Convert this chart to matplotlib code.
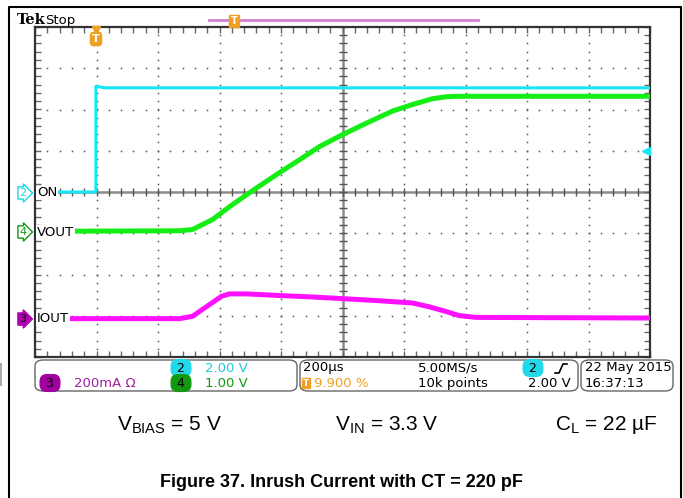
import numpy as np
import matplotlib.pyplot as plt
from matplotlib.patches import FancyBboxPatch, Rectangle
from matplotlib.lines import Line2D

plt.rcParams['font.family'] = ['DejaVu Sans']
plt.rcParams['mathtext.fontset'] = 'custom'
plt.rcParams['mathtext.rm'] = 'Liberation Sans'

W, H = 683, 498

on_t_us = [-118, 0, 0, 30, 1800]
on_v = [0.0, 0.0, 5.12, 5.05, 5.05]

vout_t_us = [-67, 272, 314, 379, 434, 499, 597, 662, 727, 802, 880, 964, 1029, 1094, 1140, 1172, 1800]
vout_v = [0.0, 0.01, 0.04, 0.28, 0.59, 0.93, 1.42, 1.73, 2.05, 2.34, 2.62, 2.91, 3.07, 3.21, 3.26, 3.27, 3.27]

iout_t_us = [-80, 272, 314, 337, 379, 408, 434, 489, 597, 704, 802, 920, 1029, 1085, 1138, 1180, 1236, 1800]
iout_ma = [0, 0, 11, 35, 78, 108, 120, 120, 112, 105, 97, 87, 76, 57, 35, 15, 6, 3]

# impostazioni oscilloscopio
time_div_us = 200
trig_div = 0.99
trig_level_v = 2.0
channels = [
    # nome, tempi, valori, scala/div, offset in divisioni, colore
    ("ON", on_t_us, on_v, 2.0, 0.0, "#14e8f5"),
    ("VOUT", vout_t_us, vout_v, 1.0, -0.95, "#14ee14"),
    ("IOUT", iout_t_us, iout_ma, 200.0, -3.07, "#ff10ff"),
]

fig = plt.figure(figsize=(W / 100, H / 100), dpi=100)


def fx(x):
    return x / W


def fy(y):
    return 1 - y / H


# --- GRATICOLA ---
ax = fig.add_axes([fx(35), fy(357), fx(650) - fx(35), fy(27) - fy(357)])
ax.set_xlim(0, 10)
ax.set_ylim(-4, 4)
for s in ax.spines.values():
    s.set_color('#333333')
    s.set_linewidth(1.6)
ax.set_xticks(np.arange(0, 10.01, 0.2))
ax.set_yticks(np.arange(-4, 4.01, 0.2))
ax.tick_params(direction='in', length=4, width=1, color='#666666',
               top=True, right=True, labelbottom=False, labelleft=False)

ys = np.arange(-4, 4.01, 0.2)
xs = np.arange(0, 10.01, 0.2)
for i in range(1, 10):
    if i != 5:
        ax.plot([i] * len(ys), ys, ls='none', marker='s', ms=1.1, mew=0, color='#555555')
for j in range(-3, 4):
    if j != 0:
        ax.plot(xs, [j] * len(xs), ls='none', marker='s', ms=1.1, mew=0, color='#555555')
ax.axhline(0, color='#8c8c8c', lw=1.8, zorder=1)
ax.axvline(5, color='#8c8c8c', lw=1.8, zorder=1)
ax.plot(xs, [0] * len(xs), ls='none', marker='|', ms=6, mew=1, color='#555555')
ax.plot([5] * len(ys), ys, ls='none', marker='_', ms=6, mew=1, color='#555555')

# --- TRACCE ---
for name, t, v, scale, off, col in channels:
    xdiv = np.array(t) / time_div_us + trig_div
    ydiv = np.array(v) / scale + off
    lw = 2.2 if name == "ON" else 3.6
    ax.plot(xdiv, ydiv, color=col, lw=lw, solid_joinstyle='round', zorder=3)

# livello di trigger (freccia a destra)
ax.plot([9.93], [trig_level_v / 2.0], marker='<', ms=6, color='#14e8f5', zorder=4, clip_on=False)
ax.plot([9.93, 10], [1.0, 1.0], color='#14e8f5', lw=1, zorder=4)

# --- ETICHETTE SINISTRA ---
fig.text(fx(19), fy(193), '2', color='#14d8e8', fontsize=8, va='center',
         bbox=dict(boxstyle='rarrow,pad=0.1', fc='white', ec='#14d8e8', lw=1))
fig.text(fx(19), fy(232), '4', color='#119911', fontsize=8, va='center',
         bbox=dict(boxstyle='rarrow,pad=0.1', fc='white', ec='#119911', lw=1))
fig.text(fx(19), fy(319), '3', color='black', fontsize=8, va='center',
         bbox=dict(boxstyle='rarrow,pad=0.1', fc='#b000b0', ec='#b000b0', lw=1))
for lab, y in [("ON", 193), ("VOUT", 232), ("IOUT", 319)]:
    fig.text(fx(37), fy(y), lab, fontsize=9.5, va='center', color='black',
             bbox=dict(boxstyle='square,pad=0.05', fc='white', ec='none'))

# --- INTESTAZIONE ---
fig.text(fx(17), fy(20), 'Tek', family='DejaVu Serif', weight='bold', fontsize=10.5, va='center')
fig.text(fx(45), fy(20), 'Stop', fontsize=9.5, va='center')
fig.add_artist(Line2D([fx(209), fx(478)], [fy(20), fy(20)], color='#d47fd4', lw=2))
fig.text(fx(234), fy(21), 'T', color='white', fontsize=7, weight='bold', ha='center', va='center',
         bbox=dict(boxstyle='square,pad=0.12', fc='#f0a020', ec='#f0a020'))
fig.text(fx(96), fy(39), 'T', color='white', fontsize=8, weight='bold', ha='center', va='center',
         bbox=dict(boxstyle='round,pad=0.15,rounding_size=0.3', fc='#f0a020', ec='#f0a020'))
fig.add_artist(Line2D([fx(96)], [fy(30)], marker='v', ms=6, color='#f0a020'))

# --- PANNELLO INFERIORE ---
for x0, x1 in [(35, 297), (300, 578), (581, 673)]:
    fig.add_artist(FancyBboxPatch((fx(x0), fy(391)), fx(x1) - fx(x0), fy(360) - fy(391),
                                  boxstyle='round,pad=0,rounding_size=0.012',
                                  fc='white', ec='#666666', lw=1, transform=fig.transFigure))


def badge(x, y, s, fc):
    fig.text(fx(x), fy(y), ' ' + s + ' ', fontsize=9, ha='center', va='center', color='black',
             bbox=dict(boxstyle='round,pad=0.15,rounding_size=0.55', fc=fc, ec=fc))


fs = 9.5
badge(181, 368, '2', '#22d8e8')
fig.text(fx(205), fy(368), '2.00 V', color='#22c8d8', fontsize=fs, va='center')
badge(50, 383, '3', '#a000a0')
fig.text(fx(74), fy(383), '200mA Ω', color='#a020a0', fontsize=fs, va='center')
badge(181, 383, '4', '#119a11')
fig.text(fx(205), fy(383), '1.00 V', color='#119a11', fontsize=fs, va='center')

fig.text(fx(303), fy(368), '200µs', color='black', fontsize=fs, va='center')
fig.text(fx(306), fy(383), 'T', color='white', fontsize=6.5, weight='bold', ha='center', va='center',
         bbox=dict(boxstyle='square,pad=0.1', fc='#f0a020', ec='#f0a020'))
fig.text(fx(314), fy(383), '9.900 %', color='#f0a020', fontsize=fs, va='center')
fig.text(fx(418), fy(368), '5.00MS/s', color='black', fontsize=fs, va='center')
fig.text(fx(418), fy(383), '10k points', color='black', fontsize=fs, va='center')
badge(533, 368, '2', '#22d8e8')
fig.add_artist(Line2D([fx(555), fx(559), fx(563), fx(567)], [fy(373), fy(373), fy(364), fy(364)],
                      color='black', lw=1.2))
fig.text(fx(528), fy(383), '2.00 V', color='black', fontsize=fs, va='center')
fig.text(fx(585), fy(368), '22 May 2015', color='black', fontsize=fs, va='center')
fig.text(fx(585), fy(383), '16:37:13', color='black', fontsize=fs, va='center')

# --- DIDASCALIA ---
cap = dict(family='Liberation Sans', fontsize=15, va='center')
fig.text(fx(117), fy(425), r'V$_{\mathrm{BIAS}}$ = 5 V', **cap)
fig.text(fx(335), fy(425), r'V$_{\mathrm{IN}}$ = 3.3 V', **cap)
fig.text(fx(555), fy(425), r'C$_{\mathrm{L}}$ = 22 µF', **cap)
fig.text(fx(341), fy(482), 'Figure 37. Inrush Current with CT = 220 pF', family='Liberation Sans',
         weight='bold', fontsize=13, ha='center', va='center')

# cornice esterna
fig.add_artist(Line2D([fx(8.5), fx(8.5), fx(681), fx(681)], [0, fy(7), fy(7), 0], color='black', lw=1.5))
fig.add_artist(Rectangle((0, fy(386)), fx(1.5), fy(363) - fy(386), fc='#aaaaaa', ec='none',
                         transform=fig.transFigure))

fig.savefig('out.png', dpi=100)
